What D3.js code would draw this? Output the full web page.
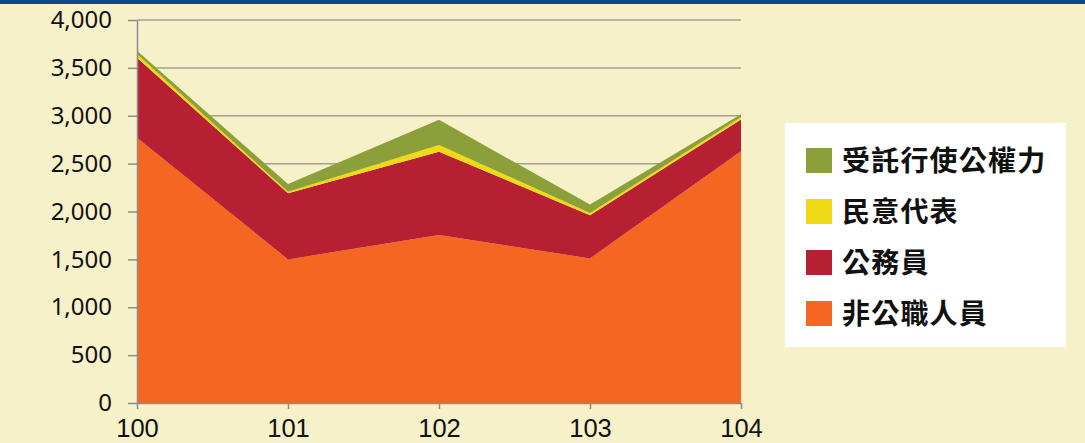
<!DOCTYPE html>
<html><head><meta charset="utf-8">
<script src="https://cdn.jsdelivr.net/npm/d3@7"></script>
<style>
html,body{margin:0;padding:0;background:#f6f1c9;}
svg{display:block;}
</style></head>
<body>
<svg id="c" width="1085" height="443"></svg>
<script>
const years = ["100","101","102","103","104"];
const seriesNames = ["非公職人員","公務員","民意代表","受託行使公權力"];
const nonOfficial = [2770, 1500, 1755, 1510, 2630];
const civilServant = [835, 690, 870, 450, 330];
const representative = [40, 17, 70, 24, 27];
const entrusted = [35, 80, 262, 88, 28];
const yTicks = [0,500,1000,1500,2000,2500,3000,3500,4000];
const colors = ["#f46622","#b71f33","#f0da16","#8ba03a"];

const svg = d3.select("#c");
const W = 1085, H = 443;
svg.append("rect").attr("width",W).attr("height",H).attr("fill","#f6f1c9");
svg.append("rect").attr("width",W).attr("height",4).attr("fill","#0b4a8a");

const x = d3.scalePoint().domain(years).range([137,741]);
const y = d3.scaleLinear().domain([0,4000]).range([403,20]);

const rows = years.map((yr,i)=>({year:yr,
  "非公職人員":nonOfficial[i],"公務員":civilServant[i],"民意代表":representative[i],"受託行使公權力":entrusted[i]}));
const stacked = d3.stack().keys(seriesNames)(rows);

// gridlines
svg.append("g").selectAll("line").data(yTicks.filter(d=>d>0)).join("line")
  .attr("x1",137).attr("x2",741).attr("y1",d=>y(d)).attr("y2",d=>y(d))
  .attr("stroke","#a3a092").attr("stroke-width",1.5);

const area = d3.area().x(d=>x(d.data.year)).y0(d=>y(d[0])).y1(d=>y(d[1]));
svg.append("g").selectAll("path").data(stacked).join("path")
  .attr("d",area).attr("fill",(d,i)=>colors[i]);

// y axis
const yAxis = d3.axisLeft(y).tickValues(yTicks).tickFormat(d3.format(",")).tickSize(9).tickSizeOuter(0);
const gy = svg.append("g").attr("transform","translate(137,0)").call(yAxis);
gy.select(".domain").attr("stroke","#8c8c8c").attr("stroke-width",1.5);
gy.selectAll(".tick line").attr("stroke","#8c8c8c").attr("stroke-width",1.5);
gy.selectAll(".tick text").attr("x",-25).attr("fill","#111")
  .style("font-family","'Noto Sans', 'Open Sans', sans-serif").style("font-size","24px");

// x axis
const xAxis = d3.axisBottom(x).tickSize(6).tickSizeOuter(0);
const gx = svg.append("g").attr("transform","translate(0,403)").call(xAxis);
gx.select(".domain").attr("stroke","#8c8c8c").attr("stroke-width",1.5);
gx.selectAll(".tick text").attr("fill","#111").attr("y",34).attr("dy",0)
  .style("font-family","'Liberation Sans', Arial, sans-serif").style("font-size","25.5px");
gx.selectAll(".tick line").attr("stroke","#8c8c8c").attr("stroke-width",1.5);

// legend
const lg = svg.append("g");
lg.append("rect").attr("x",785).attr("y",123).attr("width",281).attr("height",224).attr("fill","#ffffff");
const legendOrder = [3,2,1,0];
legendOrder.forEach((si,k)=>{
  const cy = 161 + k*51;
  lg.append("rect").attr("x",806).attr("y",cy-13).attr("width",26).attr("height",25).attr("fill",colors[si]);
  lg.append("text").attr("x",842).attr("y",cy).attr("dy","0.36em").text(seriesNames[si])
    .attr("fill","#111").style("font-family","'Noto Sans CJK TC', sans-serif")
    .style("font-size","28px").style("font-weight","700").style("letter-spacing","1.2px");
});
</script>
</body></html>
